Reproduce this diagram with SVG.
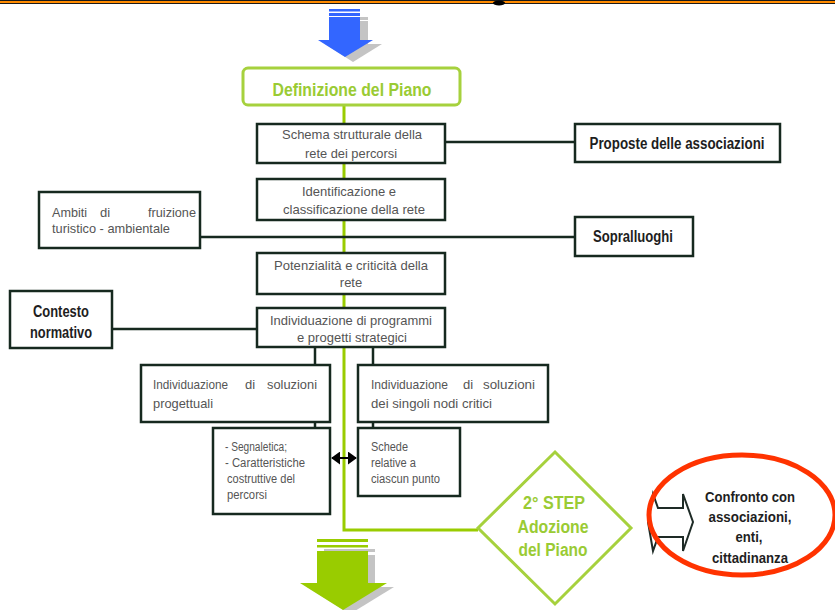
<svg xmlns="http://www.w3.org/2000/svg" width="835" height="610" viewBox="0 0 835 610">
  <style>
    .box { fill: #ffffff; stroke: #16291f; stroke-width: 2.5; }
    .t { font-family: "Liberation Sans", Arial, sans-serif; font-size: 13px; fill: #555555; }
    .ts { font-family: "Liberation Sans", Arial, sans-serif; font-size: 12px; fill: #555555; }
    .tb { font-family: "Liberation Sans", Arial, sans-serif; font-size: 16px; font-weight: bold; fill: #1e1e1e; }
    .tg { font-family: "Liberation Sans", Arial, sans-serif; font-size: 18px; font-weight: bold; fill: #9acb34; }
    .mid { text-anchor: middle; }
    .end { text-anchor: end; }
    .link { fill: none; stroke: #16291f; stroke-width: 2.5; }
    .spine { fill: none; stroke: #99cc00; stroke-width: 3; }
  </style>
  <defs>
    <marker id="head" viewBox="0 0 10 10" refX="9" refY="5" markerWidth="4.5" markerHeight="6.5" orient="auto-start-reverse" markerUnits="strokeWidth" preserveAspectRatio="none">
      <path d="M0,0 L10,5 L0,10 z" fill="#000000"/>
    </marker>
  </defs>

  <rect width="835" height="610" fill="#ffffff"/>

  <!-- top rule -->
  <rect x="0" y="0" width="835" height="4" fill="#1a1a1a"/>
  <rect x="0" y="1" width="835" height="2" fill="#ff8a00"/>
  <ellipse cx="499" cy="3" rx="6" ry="2.5" fill="#000000"/>

  <!-- blue entry arrow with shadow -->
  <g id="arrow-in">
    <g fill="#c4c4c4">
      <rect x="336" y="17" width="32" height="3"/>
      <rect x="336" y="21" width="32" height="23"/>
      <polygon points="325,44 382,44 353,62"/>
    </g>
    <g fill="#3366ff">
      <rect x="329" y="9" width="31" height="2.5"/>
      <rect x="329" y="13" width="31" height="3"/>
      <rect x="329" y="17" width="31" height="23"/>
      <polygon points="318,40 373,40 345,57"/>
    </g>
  </g>

  <!-- connectors -->
  <g id="connectors">
    <polyline class="spine" points="344,105 344,530 478,530"/>
    <line class="link" x1="445" y1="142" x2="575" y2="142"/>
    <line class="link" x1="200" y1="237" x2="575" y2="237"/>
    <line class="link" x1="112" y1="329" x2="257" y2="329"/>
    <line class="link" x1="315" y1="347" x2="315" y2="365"/>
    <line class="link" x1="373" y1="347" x2="373" y2="365"/>
    <line class="link" x1="315" y1="422" x2="315" y2="428"/>
    <line class="link" x1="373" y1="422" x2="373" y2="428"/>
    <line x1="332" y1="458" x2="356" y2="458" stroke="#000000" stroke-width="2" marker-start="url(#head)" marker-end="url(#head)"/>
  </g>

  <g id="definizione">
    <rect x="243" y="68" width="217" height="37" rx="5" fill="#ffffff" stroke="#a6d13d" stroke-width="3"/>
    <text class="tg mid" x="352" y="96" textLength="159" lengthAdjust="spacingAndGlyphs">Definizione del Piano</text>
  </g>

  <g id="schema">
    <rect class="box" x="257" y="124" width="188" height="39"/>
    <text class="t mid" x="352" y="139" textLength="140" lengthAdjust="spacingAndGlyphs">Schema strutturale della</text>
    <text class="t mid" x="351" y="158" textLength="92" lengthAdjust="spacingAndGlyphs">rete dei percorsi</text>
  </g>

  <g id="identificazione">
    <rect class="box" x="257" y="179" width="188" height="41"/>
    <text class="t mid" x="349" y="196" textLength="94" lengthAdjust="spacingAndGlyphs">Identificazione e</text>
    <text class="t mid" x="354" y="214" textLength="142" lengthAdjust="spacingAndGlyphs">classificazione della rete</text>
  </g>

  <g id="potenzialita">
    <rect class="box" x="257" y="253" width="188" height="41"/>
    <text class="t mid" x="351" y="270" textLength="154" lengthAdjust="spacingAndGlyphs">Potenzialità e criticità della</text>
    <text class="t mid" x="351" y="287">rete</text>
  </g>

  <g id="programmi">
    <rect class="box" x="257" y="308" width="188" height="39"/>
    <text class="t mid" x="351" y="325" textLength="162" lengthAdjust="spacingAndGlyphs">Individuazione di programmi</text>
    <text class="t mid" x="352" y="342" textLength="110" lengthAdjust="spacingAndGlyphs">e progetti strategici</text>
  </g>

  <g id="proposte">
    <rect class="box" x="575" y="124" width="205" height="38"/>
    <text class="tb mid" x="677" y="149" textLength="175" lengthAdjust="spacingAndGlyphs">Proposte delle associazioni</text>
  </g>

  <g id="sopralluoghi">
    <rect class="box" x="575" y="217" width="118" height="39"/>
    <text class="tb mid" x="633" y="242" textLength="80" lengthAdjust="spacingAndGlyphs">Sopralluoghi</text>
  </g>

  <g id="ambiti">
    <rect class="box" x="39" y="192" width="161" height="56"/>
    <text class="t" x="52" y="217" textLength="35" lengthAdjust="spacingAndGlyphs">Ambiti</text>
    <text class="t" x="100" y="217">di</text>
    <text class="t end" x="196" y="217" textLength="48" lengthAdjust="spacingAndGlyphs">fruizione</text>
    <text class="t" x="52" y="233" textLength="118" lengthAdjust="spacingAndGlyphs">turistico - ambientale</text>
  </g>

  <g id="contesto">
    <rect class="box" x="10" y="291" width="102" height="57"/>
    <text class="tb mid" x="61" y="317" textLength="56" lengthAdjust="spacingAndGlyphs">Contesto</text>
    <text class="tb mid" x="61" y="338" textLength="62" lengthAdjust="spacingAndGlyphs">normativo</text>
  </g>

  <g id="soluzioni-progettuali">
    <rect class="box" x="141" y="365" width="189" height="57"/>
    <text class="t" x="153" y="389" textLength="75" lengthAdjust="spacingAndGlyphs">Individuazione</text>
    <text class="t" x="245" y="389">di</text>
    <text class="t end" x="317" y="389" textLength="50" lengthAdjust="spacingAndGlyphs">soluzioni</text>
    <text class="t" x="153" y="408" textLength="60" lengthAdjust="spacingAndGlyphs">progettuali</text>
  </g>

  <g id="soluzioni-nodi">
    <rect class="box" x="358" y="365" width="190" height="57"/>
    <text class="t" x="371" y="389" textLength="77" lengthAdjust="spacingAndGlyphs">Individuazione</text>
    <text class="t" x="463" y="389">di</text>
    <text class="t end" x="535" y="389" textLength="52" lengthAdjust="spacingAndGlyphs">soluzioni</text>
    <text class="t" x="371" y="408" textLength="121" lengthAdjust="spacingAndGlyphs">dei singoli nodi critici</text>
  </g>

  <g id="segnaletica">
    <rect class="box" x="213" y="428" width="117" height="86"/>
    <text class="ts" x="225" y="451" textLength="62" lengthAdjust="spacingAndGlyphs">- Segnaletica;</text>
    <text class="ts" x="225" y="467" textLength="80" lengthAdjust="spacingAndGlyphs">- Caratteristiche</text>
    <text class="ts" x="227" y="483" textLength="68" lengthAdjust="spacingAndGlyphs">costruttive del</text>
    <text class="ts" x="227" y="499" textLength="40" lengthAdjust="spacingAndGlyphs">percorsi</text>
  </g>

  <g id="schede">
    <rect class="box" x="358" y="428" width="102" height="68"/>
    <text class="ts" x="371" y="451" textLength="37" lengthAdjust="spacingAndGlyphs">Schede</text>
    <text class="ts" x="371" y="467" textLength="45" lengthAdjust="spacingAndGlyphs">relative a</text>
    <text class="ts" x="371" y="483" textLength="69" lengthAdjust="spacingAndGlyphs">ciascun punto</text>
  </g>

  <g id="adozione">
    <polygon points="555,452 631,528 555,604 478,528" fill="#ffffff" stroke="#a6d13d" stroke-width="3"/>
    <text class="tg mid" x="554" y="509" textLength="62" lengthAdjust="spacingAndGlyphs">2° STEP</text>
    <text class="tg mid" x="553" y="533" textLength="71" lengthAdjust="spacingAndGlyphs">Adozione</text>
    <text class="tg mid" x="553" y="556" textLength="69" lengthAdjust="spacingAndGlyphs">del Piano</text>
  </g>

  <g id="confronto">
    <path d="M658,508 L683,508 L683,494 L693,522 L683,551 L683,537 L658,537 L653,551 L648,522 L653,494 Z" fill="#ffffff" stroke="#1e2b26" stroke-width="2"/>
    <ellipse cx="742" cy="515" rx="93" ry="60" fill="none" stroke="#ff3300" stroke-width="5"/>
    <text class="tb mid" x="750" y="502" textLength="90" lengthAdjust="spacingAndGlyphs" style="font-size:15px">Confronto con</text>
    <text class="tb mid" x="750" y="522" textLength="83" lengthAdjust="spacingAndGlyphs" style="font-size:15px">associazioni,</text>
    <text class="tb mid" x="749" y="542" textLength="27" lengthAdjust="spacingAndGlyphs" style="font-size:15px">enti,</text>
    <text class="tb mid" x="750" y="563" textLength="76" lengthAdjust="spacingAndGlyphs" style="font-size:15px">cittadinanza</text>
  </g>

  <!-- green exit arrow with shadow -->
  <g id="arrow-out">
    <g fill="#c4c4c4">
      <rect x="324" y="549" width="51" height="3"/>
      <rect x="324" y="555" width="51" height="32"/>
      <polygon points="307,587 394,587 350,614"/>
    </g>
    <g fill="#99cc00">
      <rect x="317" y="539" width="51" height="3"/>
      <rect x="317" y="545" width="51" height="2.5"/>
      <rect x="317" y="551" width="51" height="32"/>
      <polygon points="300,583 387,583 343,610"/>
    </g>
  </g>
</svg>
